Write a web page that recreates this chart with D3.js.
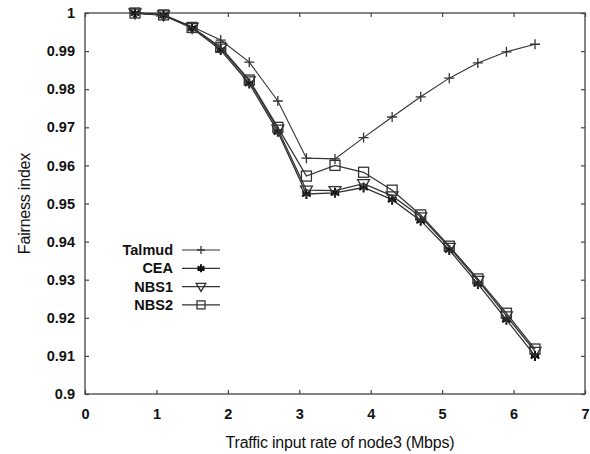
<!DOCTYPE html>
<html lang="en">
<head>
<meta charset="UTF-8">
<script src="https://cdnjs.cloudflare.com/ajax/libs/d3/7.8.5/d3.min.js"></script>
<style>
  body { margin: 0; background: #fff; }
  text { font-family: "Liberation Sans", Arial, sans-serif; fill: #111; }
</style>
</head>
<body>
<div id="chart"></div>
<script>
    // input rate of node3 (Mbps)
    const rates = [0.7, 1.1, 1.5, 1.9, 2.3, 2.7, 3.1, 3.5, 3.9, 4.3, 4.7, 5.1, 5.5, 5.9, 6.3]
    const talmud = [1.0, 0.9995, 0.9964, 0.9929, 0.9871, 0.9769, 0.9619, 0.9617, 0.9673, 0.9727, 0.9780, 0.9829, 0.9869, 0.9898, 0.9918]
    const cea = [1.0, 0.9994, 0.9960, 0.9903, 0.9815, 0.9688, 0.9525, 0.9528, 0.9542, 0.9510, 0.9455, 0.9378, 0.9289, 0.9195, 0.9100]
    const nbs1 = [1.0, 0.9995, 0.9962, 0.9908, 0.9822, 0.9695, 0.9535, 0.9534, 0.9552, 0.9520, 0.9465, 0.9385, 0.9298, 0.9205, 0.9112]
    const nbs2 = [1.0, 0.9995, 0.9962, 0.9910, 0.9824, 0.9700, 0.9572, 0.9600, 0.9582, 0.9535, 0.9470, 0.9388, 0.9302, 0.9212, 0.9118]
    const seriesNames = ["Talmud", "CEA", "NBS1", "NBS2"]
    const xTicks = [0, 1, 2, 3, 4, 5, 6, 7]
    const yTicks = [0.9, 0.91, 0.92, 0.93, 0.94, 0.95, 0.96, 0.97, 0.98, 0.99, 1]

    const W = 590, H = 454
    const m = {left: 85, right: 5, top: 13, bottom: 60}

    const svg = d3.select("#chart").append("svg").attr("width", W).attr("height", H)

    const x = d3.scaleLinear().domain([0, 7]).range([m.left, W - m.right])
    const y = d3.scaleLinear().domain([0.9, 1]).range([H - m.bottom, m.top])

    // frame
    svg.append("rect")
        .attr("x", x(0)).attr("y", y(1))
        .attr("width", x(7) - x(0)).attr("height", y(0.9) - y(1))
        .attr("fill", "none").attr("stroke", "#444").attr("stroke-width", 1.3)

    // axes, ticks pointing inside
    const gx = svg.append("g").attr("transform", "translate(0," + y(0.9) + ")")
        .call(d3.axisBottom(x).tickValues(xTicks).tickSize(-4).tickPadding(15).tickFormat(d3.format("d")))
    const gxTop = svg.append("g").attr("transform", "translate(0," + y(1) + ")")
        .call(d3.axisTop(x).tickValues(xTicks).tickSize(-4).tickFormat(""))
    const gy = svg.append("g").attr("transform", "translate(" + x(0) + ",0)")
        .call(d3.axisLeft(y).tickValues(yTicks).tickSize(-4).tickPadding(10).tickFormat(d => d === 1 || d === 0.9 ? String(d) : d.toFixed(2)))
    const gyR = svg.append("g").attr("transform", "translate(" + x(7) + ",0)")
        .call(d3.axisRight(y).tickValues(yTicks).tickSize(-4).tickFormat(""))

    ;[gx, gxTop, gy, gyR].forEach(g => {
        g.select(".domain").remove()
        g.selectAll(".tick line").attr("stroke", "#444").attr("stroke-width", 1.2)
        g.selectAll(".tick text")
            .style("font-size", "14.5px")
            .style("font-weight", "bold")
            .attr("fill", "#222")
    })

    // axis titles
    svg.append("text")
        .attr("x", 340).attr("y", 448)
        .attr("text-anchor", "middle")
        .style("font-size", "16px")
        .style("letter-spacing", "-0.2px")
        .text("Traffic input rate of node3 (Mbps)")
    svg.append("text")
        .attr("transform", "translate(30," + ((y(1) + y(0.9)) / 2) + ") rotate(-90)")
        .attr("text-anchor", "middle")
        .style("font-size", "16px")
        .style("letter-spacing", "-0.2px")
        .text("Fairness index")

    const lineColor = "#333"
    const allSeries = [talmud, cea, nbs1, nbs2]

    // markers
    let drawMarker = (g, kind, cx, cy, r) => {
        if (kind === 0) {
            g.append("path").attr("d", "M" + (cx - r) + "," + cy + "H" + (cx + r) + "M" + cx + "," + (cy - r) + "V" + (cy + r))
                .attr("stroke", lineColor).attr("stroke-width", 1.3).attr("fill", "none")
        } else if (kind === 1) {
            let p = ""
            for (let k = 0; k < 3; k++) {
                const a = Math.PI / 3 * k + Math.PI / 2
                p += "M" + (cx - r * Math.cos(a)) + "," + (cy - r * Math.sin(a)) + "L" + (cx + r * Math.cos(a)) + "," + (cy + r * Math.sin(a))
            }
            p += "M" + (cx - r * 0.8) + "," + cy + "H" + (cx + r * 0.8)
            g.append("path").attr("d", p).attr("stroke", "#111").attr("stroke-width", 2).attr("fill", "none")
        } else if (kind === 2) {
            g.append("path").attr("d", "M" + (cx - r * 1.2) + "," + (cy - r * 0.8) + "L" + (cx + r * 1.2) + "," + (cy - r * 0.8) + "L" + cx + "," + (cy + r * 1.2) + "Z")
                .attr("stroke", lineColor).attr("stroke-width", 1.3).attr("fill", "none")
        } else {
            g.append("rect").attr("x", cx - r).attr("y", cy - r).attr("width", 2 * r).attr("height", 2 * r)
                .attr("stroke", lineColor).attr("stroke-width", 1.3).attr("fill", "none")
        }
    }

    const line = d3.line().x((d, i) => x(rates[i])).y(d => y(d))

    allSeries.forEach((vals, s) => {
        svg.append("path")
            .datum(vals)
            .attr("d", line)
            .attr("fill", "none")
            .attr("stroke", lineColor)
            .attr("stroke-width", s === 0 ? 1.1 : 1.3)
        const g = svg.append("g")
        vals.forEach((v, i) => drawMarker(g, s, x(rates[i]), y(v), 5))
    })

    // legend
    const leg = svg.append("g")
    seriesNames.forEach((name, s) => {
        const ly = 250 + s * 18.3
        leg.append("text")
            .attr("x", 173).attr("y", ly + 5)
            .attr("text-anchor", "end")
            .style("font-size", "14.5px")
            .style("font-weight", "bold")
            .text(name)
        leg.append("line")
            .attr("x1", 182).attr("x2", 220).attr("y1", ly).attr("y2", ly)
            .attr("stroke", lineColor).attr("stroke-width", 1.2)
        drawMarker(leg, s, 201, ly, 4)
    })
</script>
</body>
</html>
